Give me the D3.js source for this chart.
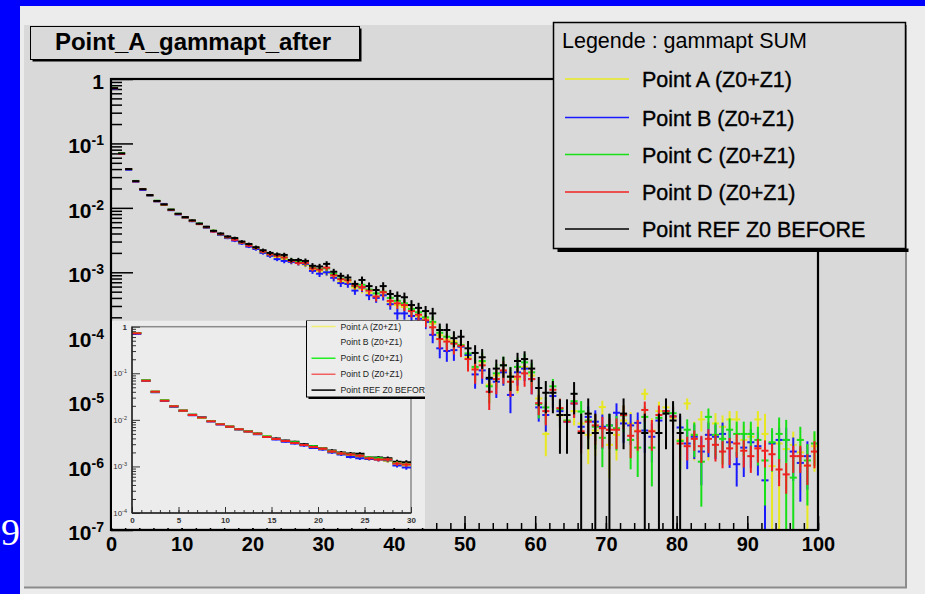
<!DOCTYPE html>
<html>
<head>
<meta charset="utf-8">
<script src="https://cdn.jsdelivr.net/npm/d3@7"></script>
<style>
  body { margin: 0; background: #0000ff; overflow: hidden; }
</style>
</head>
<body>
<div id="chart"></div>
<script>
// gammapt histograms, 100 bins of width 1 from 0 to 100

var chartTitle = "Point_A_gammapt_after";
var legendHeader = "Legende : gammapt SUM";
var seriesNames = ["Point A (Z0+Z1)", "Point B (Z0+Z1)", "Point C (Z0+Z1)", "Point D (Z0+Z1)", "Point REF Z0 BEFORE"];

// bin contents (normalised)
var valuesA = [
  7.2e-1, 7.0e-2, 4.0e-2, 2.6e-2, 1.95e-2, 1.56e-2, 1.27e-2, 1.11e-2, 9.3e-3, 8.0e-3,
  7.1e-3, 6.3e-3, 5.6e-3, 5.0e-3, 4.4e-3, 3.9e-3, 3.5e-3, 3.2e-3, 2.9e-3, 2.6e-3,
  2.4e-3, 2.1e-3, 1.9e-3, 1.7e-3, 1.6e-3, 1.45e-3, 1.4e-3, 1.3e-3, 1.1e-3, 1.05e-3,
  9.8e-4, 8.5e-4, 7.2e-4, 7.0e-4, 5.8e-4, 5.5e-4, 4.8e-4, 4.2e-4, 4.5e-4, 3.5e-4,
  3.1e-4, 2.9e-4, 2.5e-4, 2.1e-4, 1.9e-4, 1.6e-4, 1.05e-4, 9.0e-5, 8.5e-5, 7.5e-5,
  4.8e-5, 3.2e-5, 4.0e-5, 1.8e-5, 2.5e-5, 2.8e-5, 2.0e-5, 2.2e-5, 3.4e-5, 2.5e-5,
  1.1e-5, 3.1e-6, 1.2e-5, 6.0e-6, 5.0e-6, 7.0e-6, 4.5e-6, 3.0e-6, 3.5e-6, 8.1e-6,
  2.1e-6, 3.0e-6, 5.0e-6, 4.5e-6, 3.5e-6, 1.3e-5, 3.5e-6, 7.0e-6, 8.0e-6, 5.5e-6,
  2.5e-6, 9.2e-6, 3.0e-6, 5.2e-6, 3.0e-6, 4.5e-6, 4.0e-6, 5.2e-6, 5.2e-6, 2.5e-6,
  2.8e-6, 5.2e-6, 3.1e-6, 9.8e-7, 2.2e-6, 1.8e-6, 2.1e-6, 1.6e-6, 1.0e-6, 2.0e-6
];
var valuesB = [
  7.1e-1, 6.9e-2, 3.9e-2, 2.55e-2, 1.9e-2, 1.55e-2, 1.26e-2, 1.15e-2, 9.2e-3, 7.9e-3,
  7.0e-3, 6.2e-3, 5.6e-3, 4.9e-3, 4.3e-3, 3.8e-3, 3.4e-3, 3.1e-3, 2.8e-3, 2.5e-3,
  2.3e-3, 2.0e-3, 1.8e-3, 1.6e-3, 1.5e-3, 1.45e-3, 1.4e-3, 1.35e-3, 1.05e-3, 9.5e-4,
  1.0e-3, 8.2e-4, 6.8e-4, 6.6e-4, 5.2e-4, 5.8e-4, 4.4e-4, 4.0e-4, 4.4e-4, 3.2e-4,
  2.3e-4, 2.3e-4, 2.1e-4, 1.9e-4, 1.7e-4, 1.07e-4, 6.6e-5, 6.0e-5, 6.2e-5, 7.0e-5,
  5.2e-5, 2.6e-5, 3.0e-5, 2.2e-5, 2.0e-5, 2.8e-5, 1.25e-5, 2.8e-5, 3.2e-5, 2.2e-5,
  8.0e-6, 6.1e-6, 1.2e-5, 7.0e-6, 4.8e-6, 9.2e-6, 4.0e-6, 5.7e-6, 4.8e-6, 4.0e-6,
  4.2e-6, 6.6e-6, 4.5e-6, 4.2e-6, 4.6e-6, 3.5e-6, 2.8e-6, 5.0e-6, 7.0e-6, 5.8e-6,
  3.9e-6, 2.2e-6, 2.8e-6, 1.65e-6, 3.0e-6, 2.8e-6, 3.1e-6, 2.3e-6, 1.05e-6, 1.9e-6,
  2.3e-6, 2.0e-6, 5.9e-7, 2.2e-6, 2.5e-6, 2.5e-6, 1.65e-6, 1.1e-6, 1.4e-6, 0
];
var valuesC = [
  7.3e-1, 7.1e-2, 4.0e-2, 2.62e-2, 1.96e-2, 1.57e-2, 1.29e-2, 1.12e-2, 9.4e-3, 8.1e-3,
  7.1e-3, 6.3e-3, 5.7e-3, 5.0e-3, 4.4e-3, 3.9e-3, 3.5e-3, 3.3e-3, 2.9e-3, 2.7e-3,
  2.4e-3, 2.1e-3, 1.9e-3, 1.8e-3, 1.7e-3, 1.55e-3, 1.5e-3, 1.4e-3, 1.18e-3, 1.12e-3,
  1.15e-3, 9.5e-4, 8.0e-4, 7.6e-4, 6.1e-4, 6.4e-4, 5.4e-4, 4.7e-4, 5.0e-4, 4.0e-4,
  3.6e-4, 3.3e-4, 2.7e-4, 2.4e-4, 2.0e-4, 1.7e-4, 1.15e-4, 1.0e-4, 8.0e-5, 7.4e-5,
  5.5e-5, 3.4e-5, 4.2e-5, 1.7e-5, 2.7e-5, 3.6e-5, 2.4e-5, 3.4e-5, 4.0e-5, 2.8e-5,
  9.0e-6, 8.0e-6, 1.7e-5, 7.5e-6, 5.0e-6, 1.0e-5, 6.9e-6, 5.0e-6, 4.0e-6, 2.7e-6,
  4.2e-6, 3.8e-6, 6.0e-6, 2.5e-6, 1.9e-6, 5.7e-6, 1.9e-6, 5.5e-6, 6.8e-6, 6.5e-6,
  2.4e-6, 3.6e-6, 3.0e-6, 1.15e-6, 5.7e-6, 3.0e-6, 2.6e-6, 3.6e-6, 3.1e-6, 3.1e-6,
  3.1e-6, 2.5e-6, 1.2e-6, 2.3e-6, 3.1e-6, 2.5e-6, 6.5e-7, 2.5e-6, 1.2e-6, 2.2e-6
];
var valuesD = [
  7.2e-1, 6.9e-2, 4.0e-2, 2.58e-2, 1.95e-2, 1.57e-2, 1.27e-2, 1.12e-2, 9.3e-3, 8.0e-3,
  7.1e-3, 6.3e-3, 5.6e-3, 5.0e-3, 4.3e-3, 3.9e-3, 3.5e-3, 3.2e-3, 2.9e-3, 2.6e-3,
  2.4e-3, 2.1e-3, 1.9e-3, 1.8e-3, 1.7e-3, 1.5e-3, 1.4e-3, 1.4e-3, 1.15e-3, 1.1e-3,
  1.18e-3, 9.0e-4, 7.8e-4, 7.5e-4, 6.2e-4, 5.9e-4, 5.2e-4, 4.2e-4, 4.9e-4, 3.6e-4,
  3.3e-4, 3.1e-4, 2.5e-4, 2.2e-4, 1.8e-4, 1.4e-4, 9.2e-5, 8.4e-5, 7.8e-5, 7.2e-5,
  4.5e-5, 3.1e-5, 3.6e-5, 1.4e-5, 2.2e-5, 3.0e-5, 2.0e-5, 2.4e-5, 2.7e-5, 2.2e-5,
  9.3e-6, 7.0e-6, 1.5e-5, 7.8e-6, 4.8e-6, 9.2e-6, 3.4e-6, 4.8e-6, 4.2e-6, 3.8e-6,
  3.6e-6, 3.6e-6, 6.1e-6, 2.9e-6, 3.4e-6, 7.3e-6, 3.4e-6, 6.1e-6, 7.0e-6, 5.8e-6,
  2.2e-6, 2.0e-6, 2.6e-6, 2.0e-6, 2.6e-6, 2.1e-6, 1.65e-6, 1.85e-6, 2.2e-6, 1.7e-6,
  1.4e-6, 1.85e-6, 1.7e-6, 1.5e-6, 8.7e-7, 7.3e-7, 1.4e-6, 1.4e-6, 1.0e-6, 1.65e-6
];
var valuesRef = [
  7.2e-1, 7.0e-2, 4.0e-2, 2.6e-2, 1.95e-2, 1.58e-2, 1.28e-2, 1.13e-2, 9.4e-3, 8.1e-3,
  7.2e-3, 6.4e-3, 5.7e-3, 5.1e-3, 4.4e-3, 4.0e-3, 3.6e-3, 3.4e-3, 3.0e-3, 2.75e-3,
  2.45e-3, 2.2e-3, 2.0e-3, 1.9e-3, 1.86e-3, 1.55e-3, 1.55e-3, 1.5e-3, 1.26e-3, 1.23e-3,
  1.35e-3, 1.02e-3, 8.8e-4, 8.3e-4, 6.6e-4, 7.6e-4, 6.1e-4, 5.3e-4, 6.1e-4, 4.6e-4,
  4.3e-4, 4.1e-4, 3.1e-4, 2.8e-4, 2.5e-4, 2.3e-4, 1.27e-4, 1.27e-4, 9.5e-5, 1.0e-4,
  6.6e-5, 5.6e-5, 4.8e-5, 2.3e-5, 3.2e-5, 3.6e-5, 2.4e-5, 4.2e-5, 4.5e-5, 3.2e-5,
  1.6e-5, 1.35e-5, 1.35e-5, 6.1e-6, 6.1e-6, 1.3e-5, 3.2e-6, 6.4e-6, 3.2e-6, 0,
  3.2e-6, 0, 6.4e-6, 0, 0, 3.2e-6, 0, 3.2e-6, 6.4e-6, 5.0e-6,
  3.2e-6, 0, 0, 0, 0, 0, 0, 0, 0, 0,
  0, 0, 0, 0, 0, 0, 0, 0, 0, 0
];

// bin errors, in percent of the bin content
var errPctA = [
  1, 1, 1, 1, 1, 2, 2, 2, 2, 2,   3, 3, 3, 3, 4, 4, 4, 5, 5, 5,
  6, 6, 7, 7, 8, 8, 9, 9, 10, 10,   11, 12, 12, 13, 14, 14, 15, 16, 16, 17,
  18, 19, 20, 21, 22, 24, 28, 30, 30, 32,   34, 38, 36, 45, 40, 38, 42, 40, 36, 40,
  35, 55, 30, 45, 50, 40, 55, 65, 60, 25,   70, 60, 45, 50, 55, 20, 55, 40, 35, 45,
  65, 20, 60, 35, 60, 45, 50, 35, 35, 65,   60, 35, 105, 105, 105, 70, 60, 75, 110, 60
];
var errPctB = [
  1, 1, 1, 1, 1, 2, 2, 2, 2, 2,   3, 3, 3, 3, 4, 4, 4, 5, 5, 5,
  6, 6, 7, 7, 8, 8, 9, 9, 10, 11,   11, 12, 13, 13, 14, 15, 16, 16, 17, 18,
  20, 20, 21, 22, 23, 26, 30, 32, 32, 30,   32, 40, 38, 42, 44, 38, 48, 38, 36, 42,
  40, 45, 35, 45, 50, 40, 55, 45, 50, 55,   50, 40, 50, 50, 45, 55, 60, 45, 40, 45,
  50, 60, 55, 70, 55, 55, 50, 60, 55, 65,   60, 65, 85, 60, 55, 55, 65, 75, 70, 0
];
var errPctC = [
  1, 1, 1, 1, 1, 2, 2, 2, 2, 2,   3, 3, 3, 3, 4, 4, 4, 5, 5, 5,
  6, 6, 7, 7, 8, 8, 8, 9, 10, 10,   10, 11, 12, 13, 13, 14, 15, 16, 16, 17,
  18, 19, 20, 21, 22, 24, 28, 30, 32, 33,   34, 40, 36, 46, 40, 36, 42, 38, 36, 40,
  40, 45, 30, 45, 55, 40, 45, 50, 55, 65,   50, 55, 45, 65, 65, 45, 75, 45, 40, 40,
  65, 45, 55, 80, 35, 55, 60, 50, 55, 55,   55, 60, 80, 65, 80, 105, 110, 60, 80, 55
];
var errPctD = [
  1, 1, 1, 1, 1, 2, 2, 2, 2, 2,   3, 3, 3, 3, 4, 4, 4, 5, 5, 5,
  6, 6, 7, 7, 8, 8, 8, 9, 10, 10,   10, 11, 12, 13, 13, 14, 15, 16, 16, 17,
  18, 19, 20, 21, 22, 25, 29, 30, 32, 33,   36, 40, 38, 48, 42, 38, 42, 40, 38, 42,
  35, 40, 30, 40, 50, 40, 55, 45, 50, 50,   50, 50, 40, 55, 50, 35, 50, 40, 35, 40,
  45, 40, 35, 45, 40, 45, 45, 45, 40, 45,   45, 40, 45, 45, 45, 50, 45, 45, 50, 45
];
var errPctRef = [
  1, 1, 1, 1, 1, 2, 2, 2, 2, 2,   3, 3, 3, 3, 4, 4, 4, 5, 5, 5,
  6, 6, 7, 7, 8, 8, 8, 9, 10, 10,   10, 11, 12, 12, 13, 13, 14, 15, 15, 16,
  17, 18, 19, 20, 20, 22, 26, 26, 28, 28,   30, 32, 34, 42, 38, 36, 40, 34, 32, 38,
  48, 52, 52, 75, 75, 52, 100, 72, 100, 0,   100, 0, 72, 0, 0, 100, 0, 100, 72, 100,
  100, 0, 0, 0, 0, 0, 0, 0, 0, 0,   0, 0, 0, 0, 0, 0, 0, 0, 0, 0
];

// axis ticks
var xTickValues = [0, 10, 20, 30, 40, 50, 60, 70, 80, 90, 100];
var yDecades = [0, -1, -2, -3, -4, -5, -6, -7];
var insetXTickValues = [0, 5, 10, 15, 20, 25, 30];
var insetYDecades = [0, -1, -2, -3, -4];

var seriesColors = ["#e8e820", "#1a1aff", "#18e018", "#f02020", "#000000"];
var allValues = [valuesA, valuesB, valuesC, valuesD, valuesRef];
var allErrPct = [errPctA, errPctB, errPctC, errPctD, errPctRef];

var svgWidth = 925, svgHeight = 594;
var fontSans = "'Liberation Sans', Arial, Helvetica, sans-serif";

var svg = d3.select("#chart").append("svg")
  .attr("width", svgWidth)
  .attr("height", svgHeight)
  .style("display", "block");

// stray text at the left edge of the page (partly hidden by the canvas)
svg.append("text")
  .attr("x", 20).attr("y", 545)
  .attr("text-anchor", "end")
  .attr("font-family", "'Liberation Serif', 'DejaVu Serif', serif")
  .attr("font-size", 38)
  .attr("fill", "#ffffff")
  .text("09");

// canvas and pad
svg.append("rect").attr("x", 20).attr("y", 6).attr("width", 905).attr("height", 588).attr("fill", "#ececec");
svg.append("rect").attr("x", 24).attr("y", 25).attr("width", 882).attr("height", 563).attr("fill", "#d9d9d9");
svg.append("line").attr("x1", 24).attr("x2", 907).attr("y1", 587.5).attr("y2", 587.5).attr("stroke", "#8c8c8c").attr("stroke-width", 2);
svg.append("line").attr("x1", 906).attr("x2", 906).attr("y1", 25).attr("y2", 588).attr("stroke", "#8c8c8c").attr("stroke-width", 2);

// main frame
var frame = { left: 111, right: 818, top: 79, bottom: 530 };

var xScale = d3.scaleLinear().domain([0, 100]).range([frame.left, frame.right]);
var yScale = d3.scaleLog().domain([1e-7, 1]).range([frame.bottom, frame.top]);

svg.append("clipPath").attr("id", "frameClip").append("rect")
  .attr("x", frame.left).attr("y", frame.top)
  .attr("width", frame.right - frame.left).attr("height", frame.bottom - frame.top);

// draws a histogram with error bars (ROOT "E" style)
function drawHist(group, xs, ys, values, errPct, color, lineWidth, nBins) {
  var yLow = ys.domain()[0];
  var points = values.slice(0, nBins)
    .map(function (v, i) { return { bin: i, v: v, e: v * errPct[i] / 100 }; })
    .filter(function (d) { return d.v > 0; });
  var g = group.append("g")
    .attr("stroke", color)
    .attr("stroke-width", lineWidth);
  g.selectAll("line.hbar").data(points).enter().append("line")
    .classed("hbar", true)
    .attr("x1", d => xs(d.bin))
    .attr("x2", d => xs(d.bin + 1))
    .attr("y1", d => ys(d.v))
    .attr("y2", d => ys(d.v));
  g.selectAll("line.vbar").data(points).enter().append("line")
    .classed("vbar", true)
    .attr("x1", d => xs(d.bin + 0.5))
    .attr("x2", d => xs(d.bin + 0.5))
    .attr("y1", d => ys(d.v + d.e))
    .attr("y2", d => (d.v - d.e > yLow ? ys(d.v - d.e) : ys(yLow)));
}

// minor values of a log axis (2..9 times each decade)
function logMinor(decades) {
  var out = [];
  decades.forEach(function (k) {
    if (k === decades[0]) return;
    for (var m = 2; m <= 9; m++) out.push(m * Math.pow(10, k));
  });
  return out;
}

// y ticks (inside the frame)
svg.append("g")
  .attr("transform", `translate(${frame.left}, 0)`)
  .call(d3.axisRight(yScale).tickValues(logMinor(yDecades)).tickSize(11).tickFormat(""))
  .call(g => g.select(".domain").remove())
  .selectAll("line").attr("stroke", "#000").attr("stroke-width", 1.5);
svg.append("g")
  .attr("transform", `translate(${frame.left}, 0)`)
  .call(d3.axisRight(yScale).tickValues(yDecades.map(k => Math.pow(10, k))).tickSize(22).tickFormat(""))
  .call(g => g.select(".domain").remove())
  .selectAll("line").attr("stroke", "#000").attr("stroke-width", 1.5);

// x ticks
svg.append("g")
  .attr("transform", `translate(0, ${frame.bottom})`)
  .call(d3.axisTop(xScale).ticks(50).tickSize(7).tickFormat(""))
  .call(g => g.select(".domain").remove())
  .selectAll("line").attr("stroke", "#000").attr("stroke-width", 1.5);
svg.append("g")
  .attr("transform", `translate(0, ${frame.bottom})`)
  .call(d3.axisTop(xScale).tickValues(xTickValues).tickSize(14).tickFormat(""))
  .call(g => g.select(".domain").remove())
  .selectAll("line").attr("stroke", "#000").attr("stroke-width", 1.5);

// main histograms
var dataGroup = svg.append("g").attr("clip-path", "url(#frameClip)");
allValues.forEach(function (vals, s) {
  drawHist(dataGroup, xScale, yScale, vals, allErrPct[s], seriesColors[s], 2, 100);
});

// frame lines
svg.append("rect")
  .attr("x", frame.left).attr("y", frame.top)
  .attr("width", frame.right - frame.left).attr("height", frame.bottom - frame.top)
  .attr("fill", "none").attr("stroke", "#000").attr("stroke-width", 2.2);

// x labels
var xLabels = svg.append("g")
  .attr("transform", `translate(0, ${frame.bottom})`)
  .call(d3.axisBottom(xScale).tickValues(xTickValues).tickSize(0).tickPadding(7));
xLabels.select(".domain").remove();
xLabels.selectAll("text")
  .attr("font-family", fontSans)
  .attr("font-weight", "bold")
  .attr("font-size", 20)
  .attr("fill", "#000");

// y labels: 1, 10^-1 ... 10^-7
var yLabels = svg.append("g")
  .attr("font-family", fontSans)
  .attr("font-weight", "bold")
  .attr("fill", "#000");
yDecades.forEach(function (k) {
  var t = yLabels.append("text")
    .attr("x", 104)
    .attr("y", yScale(Math.pow(10, k)) + 10)
    .attr("text-anchor", "end")
    .attr("font-size", 21);
  if (k === 0) {
    t.text("1");
  } else {
    t.append("tspan").text("10");
    t.append("tspan").attr("font-size", 14).attr("dy", -8).text(String(k));
  }
});

// ---------- inset pad ----------
var inset = { left: 112, right: 425, top: 320.5, bottom: 528 };
var insetFrame = { left: 132, right: 411, top: 326.7, bottom: 513 };

svg.append("clipPath").attr("id", "insetClip").append("rect")
  .attr("x", inset.left).attr("y", inset.top)
  .attr("width", inset.right - inset.left).attr("height", inset.bottom - inset.top);
svg.append("clipPath").attr("id", "insetFrameClip").append("rect")
  .attr("x", insetFrame.left).attr("y", insetFrame.top)
  .attr("width", insetFrame.right - insetFrame.left).attr("height", insetFrame.bottom - insetFrame.top);

var insetGroup = svg.append("g").attr("clip-path", "url(#insetClip)");
insetGroup.append("rect")
  .attr("x", inset.left).attr("y", inset.top)
  .attr("width", inset.right - inset.left).attr("height", inset.bottom - inset.top)
  .attr("fill", "#ececec");

var ixScale = d3.scaleLinear().domain([0, 30]).range([insetFrame.left, insetFrame.right]);
var iyScale = d3.scaleLog().domain([1e-4, 1]).range([insetFrame.bottom, insetFrame.top]);

// inset frame (top / right in grey)
insetGroup.append("rect")
  .attr("x", insetFrame.left).attr("y", insetFrame.top)
  .attr("width", insetFrame.right - insetFrame.left).attr("height", insetFrame.bottom - insetFrame.top)
  .attr("fill", "none").attr("stroke", "#8a8a8a").attr("stroke-width", 1.5);

// inset ticks
insetGroup.append("g")
  .attr("transform", `translate(${insetFrame.left}, 0)`)
  .call(d3.axisRight(iyScale).tickValues(logMinor(insetYDecades)).tickSize(4).tickFormat(""))
  .call(g => g.select(".domain").remove())
  .selectAll("line").attr("stroke", "#333");
insetGroup.append("g")
  .attr("transform", `translate(${insetFrame.left}, 0)`)
  .call(d3.axisRight(iyScale).tickValues(insetYDecades.map(k => Math.pow(10, k))).tickSize(8).tickFormat(""))
  .call(g => g.select(".domain").remove())
  .selectAll("line").attr("stroke", "#333");
insetGroup.append("g")
  .attr("transform", `translate(0, ${insetFrame.bottom})`)
  .call(d3.axisTop(ixScale).ticks(30).tickSize(3).tickFormat(""))
  .call(g => g.select(".domain").remove())
  .selectAll("line").attr("stroke", "#333");
insetGroup.append("g")
  .attr("transform", `translate(0, ${insetFrame.bottom})`)
  .call(d3.axisTop(ixScale).tickValues(insetXTickValues).tickSize(6).tickFormat(""))
  .call(g => g.select(".domain").remove())
  .selectAll("line").attr("stroke", "#333");

// inset histograms (reference drawn first here)
var insetData = insetGroup.append("g").attr("clip-path", "url(#insetFrameClip)");
[4, 0, 1, 2, 3].forEach(function (s) {
  drawHist(insetData, ixScale, iyScale, allValues[s], allErrPct[s], seriesColors[s], 2, 30);
});

// inset axis lines (left / bottom dark)
insetGroup.append("line")
  .attr("x1", insetFrame.left).attr("x2", insetFrame.left)
  .attr("y1", insetFrame.top).attr("y2", insetFrame.bottom)
  .attr("stroke", "#222").attr("stroke-width", 1.5);
insetGroup.append("line")
  .attr("x1", insetFrame.left).attr("x2", insetFrame.right)
  .attr("y1", insetFrame.bottom).attr("y2", insetFrame.bottom)
  .attr("stroke", "#222").attr("stroke-width", 1.5);

// inset labels
var ixLabels = insetGroup.append("g")
  .attr("transform", `translate(0, ${insetFrame.bottom})`)
  .call(d3.axisBottom(ixScale).tickValues(insetXTickValues).tickSize(0).tickPadding(4));
ixLabels.select(".domain").remove();
ixLabels.selectAll("text")
  .attr("font-family", fontSans)
  .attr("font-weight", "bold")
  .attr("font-size", 8)
  .attr("fill", "#333");

var iyLabels = insetGroup.append("g")
  .attr("font-family", fontSans)
  .attr("fill", "#333");
insetYDecades.forEach(function (k) {
  var t = iyLabels.append("text")
    .attr("x", 127)
    .attr("y", iyScale(Math.pow(10, k)) + 3)
    .attr("text-anchor", "end")
    .attr("font-size", 8);
  if (k === 0) {
    t.attr("font-weight", "bold").text("1");
  } else {
    t.append("tspan").text("10");
    t.append("tspan").attr("font-size", 5.5).attr("dy", -3).text(String(k));
  }
});

// inset legend
var iLeg = { left: 306.5, top: 320.5, width: 130, rowH: 15.9 };
var iLegH = 76.5;
insetGroup.append("rect")
  .attr("x", iLeg.left + 2).attr("y", iLeg.top + 2)
  .attr("width", iLeg.width).attr("height", iLegH)
  .attr("fill", "#000");
insetGroup.append("rect")
  .attr("x", iLeg.left).attr("y", iLeg.top)
  .attr("width", iLeg.width).attr("height", iLegH)
  .attr("fill", "#ececec").attr("stroke", "#000").attr("stroke-width", 1);
var iLegLineColors = ["#f0f070", "#ececec", "#22ee22", "#f06060", "#222222"];
seriesNames.forEach(function (name, s) {
  var yy = iLeg.top + 6 + s * iLeg.rowH;
  insetGroup.append("line")
    .attr("x1", iLeg.left + 5).attr("x2", iLeg.left + 29)
    .attr("y1", yy).attr("y2", yy)
    .attr("stroke", iLegLineColors[s]).attr("stroke-width", 1.6);
  insetGroup.append("text")
    .attr("x", iLeg.left + 34).attr("y", yy + 3)
    .attr("font-family", fontSans)
    .attr("font-size", 8.7)
    .attr("fill", "#222")
    .text(name);
});

// ---------- title box ----------
svg.append("rect").attr("x", 32.5).attr("y", 28.5).attr("width", 329).attr("height", 33).attr("fill", "#000");
svg.append("rect")
  .attr("x", 30.5).attr("y", 26.5).attr("width", 329).attr("height", 33)
  .attr("fill", "#d9d9d9").attr("stroke", "#000").attr("stroke-width", 1);
svg.append("text")
  .attr("x", 193).attr("y", 50)
  .attr("text-anchor", "middle")
  .attr("font-family", fontSans)
  .attr("font-weight", "bold")
  .attr("font-size", 24)
  .attr("fill", "#000")
  .text(chartTitle);

// ---------- legend ----------
var leg = { left: 553.5, top: 22.5, width: 352, height: 226 };
svg.append("rect")
  .attr("x", leg.left + 4).attr("y", leg.top + leg.height)
  .attr("width", leg.width - 1).attr("height", 3.5)
  .attr("fill", "#000");
svg.append("rect")
  .attr("x", leg.left).attr("y", leg.top)
  .attr("width", leg.width).attr("height", leg.height)
  .attr("fill", "#d9d9d9").attr("stroke", "#000").attr("stroke-width", 1.5);
svg.append("text")
  .attr("x", 562).attr("y", 48)
  .attr("font-family", fontSans)
  .attr("font-size", 21.5)
  .attr("fill", "#000")
  .text(legendHeader);
var legendRowY = [79, 117.5, 154.5, 192, 229];
seriesNames.forEach(function (name, s) {
  svg.append("line")
    .attr("x1", 565).attr("x2", 629)
    .attr("y1", legendRowY[s]).attr("y2", legendRowY[s])
    .attr("stroke", seriesColors[s]).attr("stroke-width", 1.6);
  svg.append("text")
    .attr("x", 642).attr("y", legendRowY[s] + 8)
    .attr("font-family", fontSans)
    .attr("font-size", 21.5)
    .attr("fill", "#000")
    .attr("stroke", "#000").attr("stroke-width", 0.35)
    .text(name);
});
</script>
</body>
</html>
